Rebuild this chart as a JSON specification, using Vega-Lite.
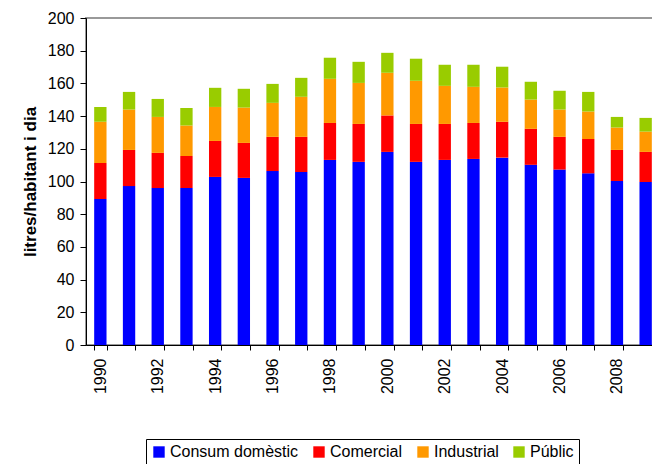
{
  "$schema": "https://vega.github.io/schema/vega-lite/v6.json",
  "autosize": "none",
  "padding": {"left": 86, "top": 18, "right": 0, "bottom": 119},
  "width": 574,
  "height": 327,
  "background": "white",
  "config": {
    "font": "Liberation Sans",
    "view": {"stroke": "#999999", "strokeWidth": 2},
    "axis": {"domainColor": "black", "tickColor": "black", "labelColor": "black", "grid": false, "labelFontSize": 16, "labelFont": "Liberation Sans"}
  },
  "data": {
    "values": [
      {"any": 1990, "tipus": "Consum domèstic", "valor": 89.3}, {"any": 1990, "tipus": "Comercial", "valor": 22.0}, {"any": 1990, "tipus": "Industrial", "valor": 25.3}, {"any": 1990, "tipus": "Públic", "valor": 9.0},
      {"any": 1991, "tipus": "Consum domèstic", "valor": 97.2}, {"any": 1991, "tipus": "Comercial", "valor": 22.1}, {"any": 1991, "tipus": "Industrial", "valor": 24.7}, {"any": 1991, "tipus": "Públic", "valor": 10.8},
      {"any": 1992, "tipus": "Consum domèstic", "valor": 96.0}, {"any": 1992, "tipus": "Comercial", "valor": 21.5}, {"any": 1992, "tipus": "Industrial", "valor": 22.0}, {"any": 1992, "tipus": "Públic", "valor": 11.0},
      {"any": 1993, "tipus": "Consum domèstic", "valor": 96.0}, {"any": 1993, "tipus": "Comercial", "valor": 19.6}, {"any": 1993, "tipus": "Industrial", "valor": 18.6}, {"any": 1993, "tipus": "Públic", "valor": 10.8},
      {"any": 1994, "tipus": "Consum domèstic", "valor": 102.8}, {"any": 1994, "tipus": "Comercial", "valor": 22.0}, {"any": 1994, "tipus": "Industrial", "valor": 20.8}, {"any": 1994, "tipus": "Públic", "valor": 11.7},
      {"any": 1995, "tipus": "Consum domèstic", "valor": 102.2}, {"any": 1995, "tipus": "Comercial", "valor": 21.4}, {"any": 1995, "tipus": "Industrial", "valor": 21.6}, {"any": 1995, "tipus": "Públic", "valor": 11.5},
      {"any": 1996, "tipus": "Consum domèstic", "valor": 106.4}, {"any": 1996, "tipus": "Comercial", "valor": 20.9}, {"any": 1996, "tipus": "Industrial", "valor": 20.8}, {"any": 1996, "tipus": "Públic", "valor": 11.6},
      {"any": 1997, "tipus": "Consum domèstic", "valor": 105.8}, {"any": 1997, "tipus": "Comercial", "valor": 21.5}, {"any": 1997, "tipus": "Industrial", "valor": 24.5}, {"any": 1997, "tipus": "Públic", "valor": 11.6},
      {"any": 1998, "tipus": "Consum domèstic", "valor": 113.2}, {"any": 1998, "tipus": "Comercial", "valor": 22.6}, {"any": 1998, "tipus": "Industrial", "valor": 27.0}, {"any": 1998, "tipus": "Públic", "valor": 12.9},
      {"any": 1999, "tipus": "Consum domèstic", "valor": 112.0}, {"any": 1999, "tipus": "Comercial", "valor": 23.2}, {"any": 1999, "tipus": "Industrial", "valor": 25.1}, {"any": 1999, "tipus": "Públic", "valor": 12.9},
      {"any": 2000, "tipus": "Consum domèstic", "valor": 118.1}, {"any": 2000, "tipus": "Comercial", "valor": 22.3}, {"any": 2000, "tipus": "Industrial", "valor": 26.1}, {"any": 2000, "tipus": "Públic", "valor": 12.2},
      {"any": 2001, "tipus": "Consum domèstic", "valor": 112.0}, {"any": 2001, "tipus": "Comercial", "valor": 23.2}, {"any": 2001, "tipus": "Industrial", "valor": 26.4}, {"any": 2001, "tipus": "Públic", "valor": 13.5},
      {"any": 2002, "tipus": "Consum domèstic", "valor": 113.2}, {"any": 2002, "tipus": "Comercial", "valor": 22.0}, {"any": 2002, "tipus": "Industrial", "valor": 23.3}, {"any": 2002, "tipus": "Públic", "valor": 12.9},
      {"any": 2003, "tipus": "Consum domèstic", "valor": 113.8}, {"any": 2003, "tipus": "Comercial", "valor": 22.0}, {"any": 2003, "tipus": "Industrial", "valor": 22.1}, {"any": 2003, "tipus": "Públic", "valor": 13.5},
      {"any": 2004, "tipus": "Consum domèstic", "valor": 114.6}, {"any": 2004, "tipus": "Comercial", "valor": 21.9}, {"any": 2004, "tipus": "Industrial", "valor": 21.0}, {"any": 2004, "tipus": "Públic", "valor": 12.7},
      {"any": 2005, "tipus": "Consum domèstic", "valor": 110.2}, {"any": 2005, "tipus": "Comercial", "valor": 22.0}, {"any": 2005, "tipus": "Industrial", "valor": 17.9}, {"any": 2005, "tipus": "Públic", "valor": 10.9},
      {"any": 2006, "tipus": "Consum domèstic", "valor": 107.3}, {"any": 2006, "tipus": "Comercial", "valor": 20.0}, {"any": 2006, "tipus": "Industrial", "valor": 16.7}, {"any": 2006, "tipus": "Públic", "valor": 11.5},
      {"any": 2007, "tipus": "Consum domèstic", "valor": 105.0}, {"any": 2007, "tipus": "Comercial", "valor": 21.0}, {"any": 2007, "tipus": "Industrial", "valor": 16.8}, {"any": 2007, "tipus": "Públic", "valor": 12.0},
      {"any": 2008, "tipus": "Consum domèstic", "valor": 100.3}, {"any": 2008, "tipus": "Comercial", "valor": 19.0}, {"any": 2008, "tipus": "Industrial", "valor": 13.7}, {"any": 2008, "tipus": "Públic", "valor": 6.5},
      {"any": 2009, "tipus": "Consum domèstic", "valor": 99.7}, {"any": 2009, "tipus": "Comercial", "valor": 18.4}, {"any": 2009, "tipus": "Industrial", "valor": 12.4}, {"any": 2009, "tipus": "Públic", "valor": 8.4}
    ]
  },
  "transform": [
    {"calculate": "indexof(['Consum domèstic','Comercial','Industrial','Públic'], datum.tipus)", "as": "ordre"}
  ],
  "mark": {"type": "bar"},
  "encoding": {
    "x": {
      "field": "any", "type": "ordinal",
      "scale": {"paddingInner": 0.57, "paddingOuter": 0.285},
      "axis": {
        "title": null, "labelAngle": -90, "tickBand": "extent", "tickSize": 5,
        "labelPadding": 8,
        "labelExpr": "datum.value % 2 == 0 ? datum.label : ''"
      }
    },
    "y": {
      "field": "valor", "type": "quantitative", "aggregate": "sum", "stack": "zero",
      "scale": {"domain": [0, 200], "nice": false},
      "axis": {
        "title": "litres/habitant i dia", "values": [0,20,40,60,80,100,120,140,160,180,200],
        "tickSize": 6, "labelPadding": 6, "titleFontSize": 17, "titleFontWeight": "bold",
        "titleColor": "black", "titlePadding": 8, "titleFont": "Liberation Sans"
      }
    },
    "color": {
      "field": "tipus", "type": "nominal",
      "scale": {
        "domain": ["Consum domèstic", "Comercial", "Industrial", "Públic"],
        "range": ["#0000FF", "#FF0000", "#FF9900", "#99CC00"]
      },
      "legend": {
        "title": null, "orient": "none", "legendX": 60, "legendY": 421,
        "direction": "horizontal", "strokeColor": "black", "padding": 5,
        "symbolType": "square", "symbolSize": 130, "symbolStrokeWidth": 0,
        "labelFontSize": 16, "labelColor": "black", "labelOffset": 3, "columnPadding": 12,
        "labelFont": "Liberation Sans"
      }
    },
    "order": {"field": "ordre", "type": "quantitative", "sort": "ascending"}
  }
}
